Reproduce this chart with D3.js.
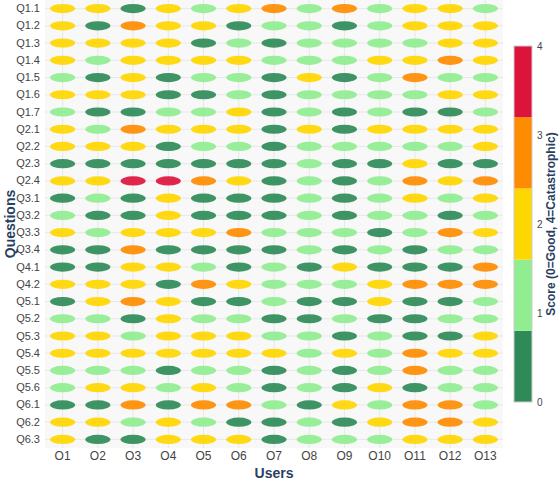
<!DOCTYPE html>
<html>
<head>
<meta charset="utf-8">
<script src="https://cdn.jsdelivr.net/npm/d3@7"></script>
<style>
  body { margin: 0; background: #fff; }
  text { font-family: "Liberation Sans", Arial, sans-serif; }
</style>
</head>
<body>
<svg id="chart" width="560" height="481"></svg>
<script>
const users = ["O1","O2","O3","O4","O5","O6","O7","O8","O9","O10","O11","O12","O13"]
const questions = ["Q1.1","Q1.2","Q1.3","Q1.4","Q1.5","Q1.6","Q1.7","Q2.1","Q2.2","Q2.3","Q2.4",
  "Q3.1","Q3.2","Q3.3","Q3.4","Q4.1","Q4.2","Q5.1","Q5.2","Q5.3","Q5.4","Q5.5","Q5.6","Q6.1","Q6.2","Q6.3"]
// scores per question row, one per user (0=Good .. 4=Catastrophic)
const scores = [
  [2,2,0,2,1,2,3,1,3,1,2,2,1],
  [2,0,3,2,2,0,1,1,0,1,2,2,2],
  [2,2,2,2,0,1,0,1,1,1,1,2,2],
  [2,1,2,2,2,2,1,1,1,2,2,3,2],
  [1,0,2,0,1,1,0,2,0,1,3,1,1],
  [2,2,2,0,0,1,0,1,1,1,1,2,2],
  [1,0,0,1,1,2,0,1,0,1,0,0,1],
  [2,1,3,2,2,2,0,2,0,2,2,2,2],
  [2,2,2,0,1,1,0,1,1,1,1,1,2],
  [0,0,0,0,0,0,0,1,0,0,2,0,0],
  [2,2,4,4,3,2,0,1,0,1,3,2,3],
  [0,1,0,2,0,0,0,1,0,1,2,1,2],
  [1,0,0,2,0,0,0,1,0,1,1,0,1],
  [2,1,2,2,2,3,1,1,1,0,1,3,2],
  [0,0,3,0,0,0,0,1,0,1,0,1,1],
  [0,0,2,2,1,0,1,0,2,0,0,0,3],
  [2,2,2,0,3,2,1,1,1,2,3,3,3],
  [0,2,3,2,0,0,1,0,0,2,0,0,1],
  [1,1,0,2,1,1,0,0,1,0,0,1,1],
  [2,2,1,2,2,2,1,1,0,1,0,0,2],
  [2,2,2,2,2,2,2,1,2,1,3,2,2],
  [1,1,1,0,1,1,0,1,0,1,3,1,1],
  [1,2,2,1,2,1,0,1,0,2,0,1,1],
  [0,0,3,0,3,3,1,0,2,1,3,3,1],
  [2,2,1,2,1,0,0,1,0,2,3,3,2],
  [2,0,0,2,2,2,0,1,1,1,2,2,2]
]
const scoreLevels = [0, 1, 2, 3, 4]
const scoreColors = ["#2e8b57", "#90ee90", "#ffd700", "#ff8c00", "#dc143c"]

const svg = d3.select("#chart")
const plot = { left: 45, right: 503, top: 0, bottom: 448 }

const x = d3.scaleBand().domain(users).range([plot.left, plot.right])
const y = d3.scaleBand().domain(questions).range([plot.top, plot.bottom])
const color = d3.scaleOrdinal().domain(scoreLevels).range(scoreColors)

// background
svg.append("rect")
  .attr("x", plot.left).attr("y", plot.top)
  .attr("width", plot.right - plot.left).attr("height", plot.bottom - plot.top)
  .attr("fill", "#f8f8f8")

// grid
svg.append("g").selectAll("line").data(users).join("line")
  .attr("x1", d => x(d) + x.bandwidth() / 2).attr("x2", d => x(d) + x.bandwidth() / 2)
  .attr("y1", plot.top).attr("y2", plot.bottom)
  .attr("stroke", "#e8e8e8").attr("stroke-width", 1)
svg.append("g").selectAll("line").data(questions).join("line")
  .attr("y1", d => y(d) + y.bandwidth() / 2).attr("y2", d => y(d) + y.bandwidth() / 2)
  .attr("x1", plot.left).attr("x2", plot.right)
  .attr("stroke", "#e8e8e8").attr("stroke-width", 1)

// cells
const cells = []
questions.forEach((q, i) => users.forEach((u, j) => cells.push({ q, u, v: scores[i][j] })))

svg.append("g").selectAll("ellipse").data(cells).join("ellipse")
  .attr("cx", d => x(d.u) + x.bandwidth() / 2)
  .attr("cy", d => y(d.q) + y.bandwidth() / 2)
  .attr("rx", 12.5)
  .attr("ry", 4.6)
  .attr("fill", d => color(d.v))
  .attr("fill-opacity", 0.92)

// axes
const xAxis = svg.append("g")
  .attr("transform", `translate(0,${plot.bottom})`)
  .call(d3.axisBottom(x).tickSize(0).tickPadding(3))
xAxis.select(".domain").remove()
xAxis.selectAll("text").attr("font-size", 12).attr("fill", "#444")

const yAxis = svg.append("g")
  .attr("transform", `translate(${plot.left},0)`)
  .call(d3.axisLeft(y).tickSize(0).tickPadding(5))
yAxis.select(".domain").remove()
yAxis.selectAll("text").attr("font-size", 11).attr("fill", "#444")

svg.append("text")
  .attr("x", (plot.left + plot.right) / 2).attr("y", 478)
  .attr("text-anchor", "middle")
  .attr("font-size", 14).attr("font-weight", "bold").attr("fill", "#2a3f5f")
  .text("Users")

svg.append("text")
  .attr("transform", `translate(15,${(plot.top + plot.bottom) / 2}) rotate(-90)`)
  .attr("text-anchor", "middle")
  .attr("font-size", 14).attr("font-weight", "bold").attr("fill", "#2a3f5f")
  .text("Questions")

// colour bar
const cb = { x: 514, w: 18, top: 46, bottom: 402 }
const cy = d3.scaleLinear().domain([0, 4]).range([cb.bottom, cb.top])
const bands = scoreLevels.map((s, i) => ({ s, lo: i * 0.8, hi: (i + 1) * 0.8 }))

const cbar = svg.append("g")
cbar.selectAll("rect").data(bands).join("rect")
  .attr("x", cb.x).attr("width", cb.w)
  .attr("y", d => cy(d.hi)).attr("height", d => cy(d.lo) - cy(d.hi))
  .attr("fill", d => color(d.s))
cbar.append("rect")
  .attr("x", cb.x).attr("y", cb.top).attr("width", cb.w).attr("height", cb.bottom - cb.top)
  .attr("fill", "none").attr("stroke", "#ccc").attr("stroke-width", 1)

const cAxis = svg.append("g")
  .attr("transform", `translate(${cb.x + cb.w},0)`)
  .call(d3.axisRight(cy).tickValues(scoreLevels).tickFormat(d3.format("d")).tickSize(0).tickPadding(5))
cAxis.select(".domain").remove()
cAxis.selectAll("text").attr("font-size", 10).attr("fill", "#444")

svg.append("text")
  .attr("transform", `translate(555,${(cb.top + cb.bottom) / 2}) rotate(-90)`)
  .attr("text-anchor", "middle")
  .attr("font-size", 12).attr("font-weight", "bold").attr("fill", "#2a3f5f")
  .text("Score (0=Good, 4=Catastrophic)")
</script>
</body>
</html>
